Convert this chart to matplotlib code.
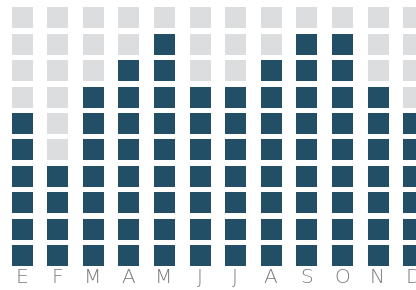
import matplotlib
matplotlib.use('Agg')
import matplotlib.pyplot as plt

months = ['E', 'F', 'M', 'A', 'M', 'J', 'J', 'A', 'S', 'O', 'N', 'D']
filled = [6, 4, 7, 8, 9, 7, 7, 8, 9, 9, 7, 6]
n_rows = 10

dark = '#224e66'
light = '#dcdddf'

fig = plt.figure(figsize=(4.16, 2.9), dpi=100)
ax = fig.add_axes([0, 0, 1, 1])

# grid geometry in pixels
x0, dx = 21.5, 35.6
y_bottom, dy = 255.0, 26.4
side_pt = 21 * 72 / 100

for i, (m, n) in enumerate(zip(months, filled)):
    x = x0 + i * dx
    for r in range(n_rows):
        y = y_bottom - r * dy
        c = dark if r < n else light
        ax.scatter(x, y, marker='s', s=side_pt ** 2, color=c, linewidths=0)
    ax.text(x, 277.5, m, ha='center', va='center', fontsize=14.5,
            family='DejaVu Sans', weight='light', color='#7a7a7a')

ax.set_xlim(0, 416)
ax.set_ylim(290, 0)
ax.axis('off')

fig.savefig('out.png', dpi=100)
